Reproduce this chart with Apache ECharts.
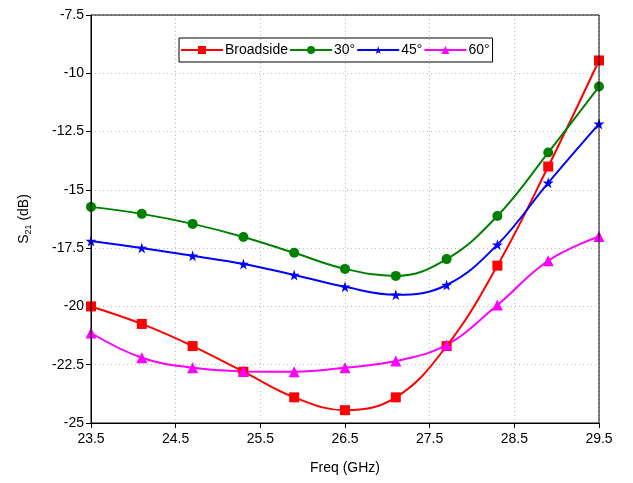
<!DOCTYPE html>
<html>
<head>
<meta charset="utf-8">
<script src="https://cdn.jsdelivr.net/npm/echarts@6/dist/echarts.min.js"></script>
<style>
html, body { margin: 0; padding: 0; background: #fff; }
#chart { width: 633px; height: 483px; }
</style>
</head>
<body>
<div id="chart"></div>
<script>
// frequencies (GHz)
var freq = [23.5, 24.1, 24.7, 25.3, 25.9, 26.5, 27.1, 27.7, 28.3, 28.9, 29.5];
var broadside = [-20.0, -20.75, -21.7, -22.8, -23.9, -24.45, -23.9, -21.7, -18.25, -14.0, -9.45];
var deg30 = [-15.73, -16.03, -16.46, -17.02, -17.7, -18.39, -18.69, -17.97, -16.12, -13.4, -10.57];
var deg45 = [-17.19, -17.49, -17.83, -18.18, -18.65, -19.16, -19.5, -19.08, -17.35, -14.7, -12.17];
var deg60 = [-21.14, -22.2, -22.63, -22.79, -22.8, -22.63, -22.34, -21.65, -19.94, -18.04, -17.0];

var star = 'path://M50,0 L61,35 L98,35 L68,57 L79,91 L50,70 L21,91 L32,57 L2,35 L39,35 Z';

function pairs(ys) {
	var out = [];
	for (var i = 0; i < freq.length; i++) {
		out.push([freq[i], ys[i]]);
	}
	return out;
}

function mkSeries(name, ys, color, symbol, size) {
	return {
		name: name,
		type: 'line',
		data: pairs(ys),
		smooth: 0.4,
		symbol: symbol,
		symbolSize: size,
		showAllSymbol: true,
		lineStyle: { color: color, width: 2 },
		itemStyle: { color: color },
		emphasis: { disabled: true }
	};
}

var myChart = echarts.init(document.getElementById('chart'));
var font = 'Liberation Sans, Arial, sans-serif';
var gridLine = { show: true, lineStyle: { color: '#bbb', type: [1, 3] } };
var option = {
	animation: false,
	textStyle: { fontFamily: font },
	grid: { left: 91, right: 34, top: 15, bottom: 60 },
	legend: {
		left: 179,
		top: 38,
		padding: [5, 3, 5, 1],
		itemGap: 1,
		itemWidth: 42,
		itemHeight: 10,
		borderColor: '#000',
		borderWidth: 1,
		textStyle: { fontFamily: font, fontSize: 14, color: '#000', padding: [0, 0, 0, -3] },
		data: ['Broadside', '30°', '45°', '60°']
	},
	xAxis: {
		type: 'value',
		min: 23.5,
		max: 29.5,
		interval: 1,
		name: 'Freq (GHz)',
		nameLocation: 'middle',
		nameGap: 38,
		nameTextStyle: { fontSize: 14, color: '#000' },
		axisLine: { show: true, onZero: false, lineStyle: { color: '#000', width: 1 } },
		axisTick: { show: true, length: 5, lineStyle: { color: '#000' } },
		axisLabel: { fontSize: 14, color: '#000', margin: 9 },
		splitLine: gridLine
	},
	yAxis: {
		type: 'value',
		min: -25,
		max: -7.5,
		interval: 2.5,
		name: 'S{sub|21} (dB)',
		nameLocation: 'middle',
		nameGap: 58,
		nameTextStyle: {
			fontSize: 14, color: '#000',
			rich: { sub: { fontSize: 9, color: '#000', verticalAlign: 'bottom', padding: [8, 0, 0, 0] } }
		},
		axisLine: { show: true, onZero: false, lineStyle: { color: '#000', width: 1 } },
		axisTick: { show: true, length: 5, lineStyle: { color: '#000' } },
		axisLabel: { fontSize: 14, color: '#000', margin: 7 },
		splitLine: gridLine
	},
	series: [
		mkSeries('Broadside', broadside, '#ff0000', 'rect', 10),
		mkSeries('30°', deg30, '#008000', 'circle', 10),
		mkSeries('45°', deg45, '#0000ff', star, 11),
		mkSeries('60°', deg60, '#ff00ff', 'triangle', 11)
	],
	graphic: [{
		type: 'rect',
		shape: { x: 91, y: 15, width: 508, height: 408 },
		style: { fill: 'none', stroke: '#000', lineWidth: 1 },
		silent: true,
		z: 10
	}]
};
myChart.setOption(option);
</script>
</body>
</html>
